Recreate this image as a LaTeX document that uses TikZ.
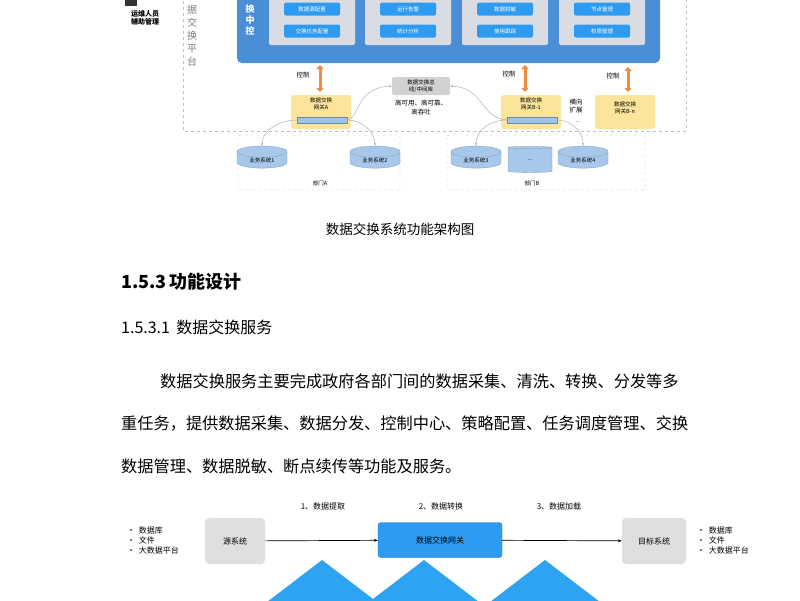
\documentclass[tikz,border=0pt]{standalone}
\usepackage{fontspec}
\setmainfont{Liberation Serif}
\newfontfamily\cjk{Noto Sans CJK SC}
\usetikzlibrary{shapes.geometric,arrows.meta}
\definecolor{bigblue}{HTML}{4A8FD6}
\definecolor{btn}{HTML}{2E9BF0}
\definecolor{panel}{HTML}{D9DDE3}
\definecolor{gw}{HTML}{FCE49A}
\definecolor{bar}{HTML}{9CC5EA}
\definecolor{cyl}{HTML}{A7C8EA}
\definecolor{org}{HTML}{F08A3C}
\definecolor{tri}{HTML}{2EA3F2}
\tikzset{
 x=1pt,y=-1pt,
 t/.style={font=\cjk\fontsize{5.5}{7}\selectfont,align=center,inner sep=0},
 btnS/.style={fill=btn,rounded corners=1.5,minimum width=56,minimum height=13,t,text=white},
 panelS/.style={fill=panel,rounded corners=2},
 gwS/.style={fill=gw,rounded corners=3,minimum width=60,minimum height=34},
 barS/.style={fill=bar,draw=bar!70!black,line width=.3,minimum width=50,minimum height=6,inner sep=0},
 cylS/.style={cylinder,shape border rotate=90,aspect=0.45,fill=cyl,draw=cyl!80!black,line width=.3,minimum width=50,minimum height=22,t},
 dsh/.style={draw=gray!50,dashed,line width=.4},
 ctrl/.style={org,line width=3,{Triangle[length=4,width=7]}-{Triangle[length=4,width=7]}},
 curv/.style={gray!60,line width=.5,-{Stealth[length=3]}},
 body/.style={font=\cjk\fontsize{16.2}{17}\selectfont,anchor=west,inner sep=0},
 sys/.style={fill=gray!25,rounded corners=4,minimum width=60,minimum height=46,t,font=\cjk\fontsize{8}{9}\selectfont},
 flow/.style={line width=.7,-{Stealth[length=4]}},
 lab/.style={t,font=\cjk\fontsize{8}{10}\selectfont},
}
\begin{document}
\begin{tikzpicture}
\useasboundingbox[fill=white] (0,0) rectangle (800,600);
% top-left operator
\fill[black!80] (125,0) rectangle (137,6);
\node[t,font=\cjk\bfseries\fontsize{7}{8.5}\selectfont] (op) at (145,18) {运维人员\\辅助管理};
% platform
\draw[dsh] (183,-5) -- (183,131) -- (686,131) -- (686,-5);
\node[t,font=\cjk\fontsize{10}{13}\selectfont,text=gray] (plat) at (192,36) {据\\交\\换\\平\\台};
\fill[bigblue,rounded corners=5] (237,-10) rectangle (660,63);
\node[t,font=\cjk\bfseries\fontsize{9}{11}\selectfont,text=white] (ctl) at (250,20) {换\\中\\控};
\foreach \cx/\a/\b [count=\i] in {312/数据源配置/交换任务配置,408/运行告警/统计分析,505/数据脱敏/使用跟踪,602/节点管理/权限管理}{
  \fill[panelS] (\cx-43,-6) rectangle (\cx+43,45);
  \node[btnS] (p\i a) at (\cx,9) {\a};
  \node[btnS] (p\i b) at (\cx,31) {\b};
}
% gateways
\node[gwS] (ga) at (321,112) {};
\node[t,anchor=north] at (ga.north) [yshift=-3] {数据交换\\网关A};
\node[barS] (ba) at (322,120) {};
\node[gwS] (gb) at (531,112) {};
\node[t,anchor=north] at (gb.north) [yshift=-3] {数据交换\\网关B-1};
\node[barS] (bb) at (532,120) {};
\node[gwS] (gn) at (625,112) {};
\node[t] at (625,108) {数据交换\\网关B-n};
\node[t,font=\cjk\fontsize{6.5}{8}\selectfont] (hx) at (576,106) {横向\\扩展};
\node[t] at (578,122) {...};
% control arrows
\coordinate (c1) at (320,65); \coordinate (c1b) at (320,92);
\coordinate (c2) at (525,65); \coordinate (c2b) at (525,92);
\coordinate (c3) at (628,67); \coordinate (c3b) at (628,92);
\draw[ctrl] (c1) -- (c1b); \draw[ctrl] (c2) -- (c2b); \draw[ctrl] (c3) -- (c3b);
\node[t,font=\cjk\fontsize{6.5}{8}\selectfont] at (303,75) {控制}; \node[t,font=\cjk\fontsize{6.5}{8}\selectfont] at (509,74) {控制}; \node[t,font=\cjk\fontsize{6.5}{8}\selectfont] at (613,76) {控制};
% bus
\node[fill=gray!35,rounded corners=2,minimum width=58,minimum height=18,t] (bus) at (421,86) {数据交换总\\线/中间库};
\node[t,font=\cjk\fontsize{6.5}{9}\selectfont] at (421,108) {高可用、高可靠、\\高吞吐};
\draw[curv] (ba.east) .. controls (360,118) and (355,88) .. (bus.west);
\draw[curv] (bb.west) .. controls (480,118) and (485,88) .. (bus.east);
% departments
\draw[dsh,rounded corners=2] (238,135) rectangle (400,190);
\draw[dsh,rounded corners=2] (447,135) rectangle (645,190);
\node[cylS] (s1) at (262,160) {业务系统1};
\node[cylS] (s2) at (375,160) {业务系统2};
\node[cylS] (s3) at (476,160) {业务系统3};
\node[cylS,minimum width=44,minimum height=26] (s0) at (530,160) {...};
\node[cylS] (s4) at (583,160) {业务系统4};
\node[t] at (320,183) {部门A}; \node[t] at (532,183) {部门B};
\draw[curv] (ba.west) .. controls (280,120) and (262,130) .. (s1.north);
\draw[curv] (ba.east) .. controls (360,120) and (375,130) .. (s2.north);
\draw[curv] (bb.west) .. controls (490,120) and (476,130) .. (s3.north);
\draw[curv] (bb.east) .. controls (570,120) and (583,130) .. (s4.north);
% caption & text
\node[t,font=\cjk\fontsize{13.5}{15}\selectfont] (cap) at (400,229) {数据交换系统功能架构图};
\node[body,font=\cjk\bfseries\fontsize{18}{20}\selectfont] (h1) at (121,282) {1.5.3\,功能设计};
\node[body,font=\cjk\fontsize{16}{18}\selectfont] (h2) at (121,327) {1.5.3.1\, 数据交换服务};
\node[body] (l1) at (160,381) {数据交换服务主要完成政府各部门间的数据采集、清洗、转换、分发等多};
\node[body] (l2) at (121,423) {重任务，提供数据采集、数据分发、控制中心、策略配置、任务调度管理、交换};
\node[body] (l3) at (121,466) {数据管理、数据脱敏、断点续传等功能及服务。};
% bottom flow
\foreach \ax in {322,424,545}{\fill[tri] (\ax,560) -- (\ax+72,615) -- (\ax-72,615) -- cycle;}
\node[sys] (src) at (235,541) {源系统};
\node[fill=btn,draw=btn!80!black,rounded corners=3,minimum width=124,minimum height=35,lab] (gwy) at (440,540) {数据交换网关};
\node[sys,minimum width=64] (dst) at (654,541) {目标系统};
\draw[flow] (src) -- (gwy);
\draw[flow] (gwy) -- (dst);
\node[lab] at (323,506) {1、数据提取};
\node[lab] at (441,506) {2、数据转换};
\node[lab] at (559,506) {3、数据加载};
\node[lab,align=left,anchor=west] (lb) at (127,540) {•\ \ 数据库\\•\ \ 文件\\•\ \ 大数据平台};
\node[lab,align=left,anchor=west] (rb) at (697,540) {•\ \ 数据库\\•\ \ 文件\\•\ \ 大数据平台};
\end{tikzpicture}
\end{document}
